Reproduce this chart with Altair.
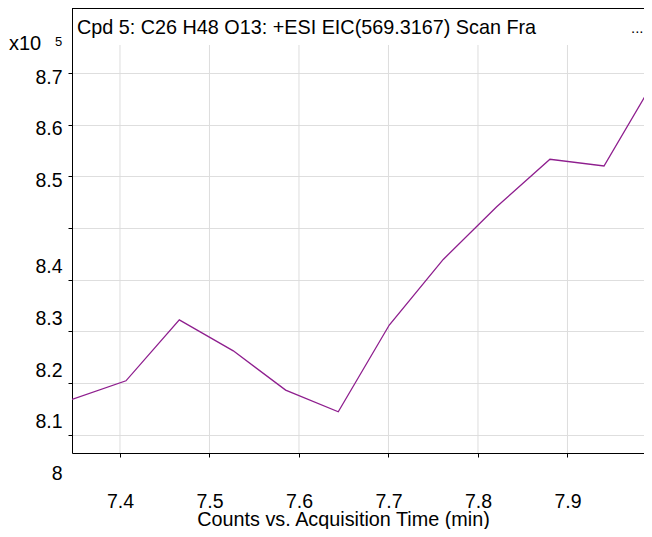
import altair as alt
import pandas as pd

# Acquisition time (min) and counts (x10^5)
times = [7.3464, 7.4067, 7.4663, 7.5266, 7.5851, 7.6439, 7.7009, 7.7612, 7.8209, 7.8804, 7.9408, 7.9944]
counts = [8.068, 8.104, 8.222, 8.162, 8.086, 8.044, 8.212, 8.339, 8.441, 8.533, 8.520, 8.678]

x_ticks = [7.4, 7.5, 7.6, 7.7, 7.8, 7.9]
y_ticks = [8.0, 8.1, 8.2, 8.3, 8.4, 8.5, 8.6, 8.7]

title_text = "Cpd 5: C26 H48 O13: +ESI EIC(569.3167) Scan Fra"
x_title = "Counts vs. Acquisition Time (min)"

FONT = "Liberation Sans"
FS = 19.5
TFS = 19.8
W, H = 572, 445

df = pd.DataFrame({"time": times, "counts": counts})
grid_df = pd.DataFrame({"time": x_ticks})
one = pd.DataFrame({"k": [0]})

xscale = alt.Scale(domain=[7.3464, 7.9855], nice=False, zero=False)
yscale = alt.Scale(domain=[7.9642, 8.8259], nice=False, zero=False)

x_axis = alt.Axis(
    values=x_ticks, grid=False, title=x_title, format=".1f",
    labelFontSize=FS, labelFont=FONT, labelColor="black", labelPadding=35,
    tickColor="black", tickSize=4, domainColor="black",
    titleFont=FONT, titleFontSize=TFS, titleFontWeight="normal", titleColor="black",
    titleX=271, titleY=72, titleAlign="center", titleBaseline="alphabetic",
    labelFlush=False,
)
y_axis = alt.Axis(
    values=y_ticks, grid=True, gridColor="#dedede", title=None,
    labelExpr="datum.value == 8 ? '8' : format(datum.value, '.1f')",
    labelFontSize=FS, labelFont=FONT, labelColor="black", labelPadding=6,
    labelOffset={"condition": {"test": "datum.value < 8.45", "value": 39}, "value": 4},
    tickColor="black", tickSize=4, domainColor="black", labelFlush=False,
)

vgrid = alt.Chart(grid_df).mark_rule(color="#dedede", strokeWidth=1).encode(
    x=alt.X("time:Q", scale=xscale, axis=x_axis),
    y=alt.value(37), y2=alt.value(H),
)

line = alt.Chart(df).mark_line(color="#8e1e8e", strokeWidth=1.3, clip=True).encode(
    x=alt.X("time:Q", scale=xscale, axis=x_axis),
    y=alt.Y("counts:Q", scale=yscale, axis=y_axis),
)

top_border = alt.Chart(one).mark_rule(color="black", strokeWidth=1).encode(
    x=alt.value(0), x2=alt.value(W), y=alt.value(0.5),
)

def label(text, x, y, size):
    return alt.Chart(one).mark_text(
        text=text, font=FONT, fontSize=size, fontWeight="normal",
        align="left", baseline="alphabetic", color="black",
    ).encode(x=alt.value(x), y=alt.value(y))

title_mark = label(title_text, 5, 26, TFS)
dots_mark = label("...", 559, 25, 15)
x10_mark = label("x10", -63, 42, 20)
exp_mark = label("5", -17, 38, 13)

chart = alt.layer(vgrid, line, top_border, title_mark, dots_mark, x10_mark, exp_mark).properties(
    width=W, height=H,
    autosize=alt.AutoSizeParams(type="none"),
    padding={"left": 64, "top": 0, "right": 0, "bottom": 76},
).configure_view(stroke=None)

chart.save("out.html", embed_options={"renderer": "svg", "actions": False})
